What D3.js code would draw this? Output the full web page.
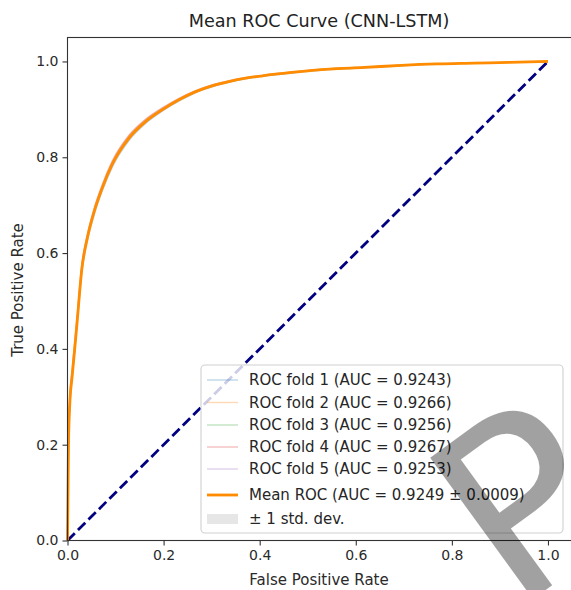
<!DOCTYPE html>
<html>
<head>
<meta charset="utf-8">
<script src="https://cdn.jsdelivr.net/npm/d3@7"></script>
<style>
  body { margin: 0; background: #fff; }
  text { font-family: "DejaVu Sans", sans-serif; }
</style>
</head>
<body>
<div id="chart"></div>
<script>
// values
var fprGrid = [0, 0.002, 0.005, 0.0094, 0.015, 0.020, 0.030, 0.041, 0.055, 0.072, 0.093, 0.128, 0.162, 0.197, 0.232, 0.267, 0.301, 0.336, 0.371, 0.406, 0.467, 0.545, 0.618, 0.695, 0.770, 0.846, 0.920, 1.0];

var fold1Tpr = [0, 0.19, 0.28, 0.335, 0.395, 0.45, 0.56, 0.624, 0.678, 0.729, 0.779, 0.835, 0.870, 0.896, 0.917, 0.935, 0.947, 0.957, 0.964, 0.969, 0.976, 0.983, 0.987, 0.991, 0.995, 0.9965, 0.998, 1];
var fold2Tpr = [0, 0.21, 0.30, 0.35, 0.41, 0.465, 0.575, 0.636, 0.690, 0.740, 0.790, 0.845, 0.878, 0.902, 0.922, 0.939, 0.951, 0.959, 0.966, 0.971, 0.978, 0.985, 0.988, 0.992, 0.995, 0.997, 0.998, 1];
var fold3Tpr = [0, 0.20, 0.29, 0.34, 0.40, 0.458, 0.570, 0.632, 0.686, 0.736, 0.786, 0.841, 0.875, 0.900, 0.920, 0.937, 0.949, 0.958, 0.965, 0.970, 0.977, 0.984, 0.9875, 0.992, 0.995, 0.9965, 0.998, 1];
var fold4Tpr = [0, 0.21, 0.305, 0.355, 0.415, 0.468, 0.578, 0.638, 0.692, 0.742, 0.792, 0.846, 0.879, 0.903, 0.923, 0.939, 0.951, 0.960, 0.966, 0.971, 0.978, 0.985, 0.988, 0.992, 0.995, 0.997, 0.998, 1];
var fold5Tpr = [0, 0.20, 0.285, 0.338, 0.398, 0.455, 0.566, 0.630, 0.684, 0.734, 0.784, 0.839, 0.873, 0.898, 0.919, 0.936, 0.948, 0.957, 0.965, 0.970, 0.977, 0.984, 0.9875, 0.992, 0.995, 0.9965, 0.998, 1];

var meanTpr = [0, 0.20, 0.29, 0.34, 0.40, 0.456, 0.568, 0.630, 0.685, 0.735, 0.785, 0.840, 0.874, 0.899, 0.920, 0.937, 0.949, 0.958, 0.965, 0.970, 0.977, 0.984, 0.9875, 0.992, 0.995, 0.9965, 0.998, 1.0];

var foldAuc = [0.9243, 0.9266, 0.9256, 0.9267, 0.9253];
var meanAuc = 0.9249;
var stdAuc = 0.0009;

var tickValues = [0, 0.2, 0.4, 0.6, 0.8, 1.0];

var foldColors = ["#1f77b4", "#ff7f0e", "#2ca02c", "#d62728", "#9467bd"];

var width = 571, height = 590;

var svg = d3.select("#chart")
  .append("svg")
  .attr("width", width)
  .attr("height", height);

var x = d3.scaleLinear().domain([0, 1.05]).range([67.5, 572]);
var y = d3.scaleLinear().domain([0, 1.05]).range([540.5, 37.5]);

var folds = [fold1Tpr, fold2Tpr, fold3Tpr, fold4Tpr, fold5Tpr];

// std band from the folds
var stdTpr = fprGrid.map(function(d, i) {
  return d3.deviation(folds, function(f) { return f[i]; });
});

var line = d3.line()
  .x(function(d) { return x(d[0]); })
  .y(function(d) { return y(d[1]); })
  .curve(d3.curveMonotoneX);

var area = d3.area()
  .x(function(d, i) { return x(fprGrid[i]); })
  .y0(function(d, i) { return y(Math.max(meanTpr[i] - stdTpr[i], 0)); })
  .y1(function(d, i) { return y(Math.min(meanTpr[i] + stdTpr[i], 1)); })
  .curve(d3.curveMonotoneX);

var plot = svg.append("g");

plot.selectAll("path.fold")
  .data(folds)
  .enter().append("path")
  .attr("class", "fold")
  .attr("d", function(f) {
    return line(fprGrid.map(function(d, i) { return [d, f[i]]; }));
  })
  .style("fill", "none")
  .style("stroke", function(d, i) { return foldColors[i]; })
  .style("stroke-opacity", 0.3)
  .style("stroke-width", "1.4px");

plot.append("path")
  .attr("d", line([[0, 0], [1, 1]]))
  .style("fill", "none")
  .style("stroke", "navy")
  .style("stroke-width", "2.8px")
  .style("stroke-dasharray", "10.3,4.5");

plot.append("path")
  .attr("d", area(fprGrid))
  .style("fill", "grey")
  .style("fill-opacity", 0.2);

plot.append("path")
  .attr("d", line(fprGrid.map(function(d, i) { return [d, meanTpr[i]]; })))
  .style("fill", "none")
  .style("stroke", "darkorange")
  .style("stroke-width", "2.8px")
  .style("stroke-linejoin", "round");

// axes
var xAxis = svg.append("g")
  .attr("transform", "translate(0," + y(0) + ")")
  .call(d3.axisBottom(x).tickValues(tickValues).tickFormat(d3.format(".1f")).tickSize(5).tickPadding(5));

var yAxis = svg.append("g")
  .attr("transform", "translate(" + x(0) + ",0)")
  .call(d3.axisLeft(y).tickValues(tickValues).tickFormat(d3.format(".1f")).tickSize(5).tickPadding(4));

[xAxis, yAxis].forEach(function(a) {
  a.select(".domain").remove();
  a.selectAll("line").style("stroke", "#333").style("stroke-width", "1.1px");
  a.selectAll("text")
    .style("font-family", "DejaVu Sans")
    .style("font-size", "14px")
    .style("fill", "#2a2a2a");
});

// frame
svg.append("rect")
  .attr("x", x(0))
  .attr("y", y(1.05))
  .attr("width", x(1.05) - x(0))
  .attr("height", y(0) - y(1.05))
  .style("fill", "none")
  .style("stroke", "#333")
  .style("stroke-width", "1.1px");

svg.append("text")
  .attr("x", 319)
  .attr("y", 27)
  .attr("text-anchor", "middle")
  .style("font-size", "17.6px")
  .style("fill", "#222")
  .text("Mean ROC Curve (CNN-LSTM)");

svg.append("text")
  .attr("x", 319)
  .attr("y", 585)
  .attr("text-anchor", "middle")
  .style("font-size", "15px")
  .style("fill", "#2a2a2a")
  .text("False Positive Rate");

svg.append("text")
  .attr("transform", "translate(23,290) rotate(-90)")
  .attr("text-anchor", "middle")
  .style("font-size", "15px")
  .style("fill", "#2a2a2a")
  .text("True Positive Rate");

// legend
var legend = svg.append("g");

legend.append("rect")
  .attr("x", 201)
  .attr("y", 365)
  .attr("width", 362)
  .attr("height", 168)
  .attr("rx", 4)
  .style("fill", "#fff")
  .style("fill-opacity", 0.8)
  .style("stroke", "#d0d0d0")
  .style("stroke-width", "1.1px");

var rowY = [380, 402.5, 425, 447, 469, 495, 519];

var entries = foldAuc.map(function(a, i) {
  return { label: "ROC fold " + (i + 1) + " (AUC = " + a.toFixed(4) + ")", color: foldColors[i], kind: "fold" };
});
entries.push({ label: "Mean ROC (AUC = " + meanAuc.toFixed(4) + " \u00b1 " + stdAuc.toFixed(4) + ")", color: "darkorange", kind: "mean" });
entries.push({ label: "\u00b1 1 std. dev.", color: "grey", kind: "std" });

var rows = legend.selectAll("g.row")
  .data(entries)
  .enter().append("g")
  .attr("class", "row")
  .attr("transform", function(d, i) { return "translate(0," + rowY[i] + ")"; });

rows.filter(function(d) { return d.kind != "std"; })
  .append("line")
  .attr("x1", 207)
  .attr("x2", 238)
  .style("stroke", function(d) { return d.color; })
  .style("stroke-opacity", function(d) { return d.kind == "fold" ? 0.3 : 1; })
  .style("stroke-width", function(d) { return d.kind == "fold" ? "1.4px" : "2.8px"; });

rows.filter(function(d) { return d.kind == "std"; })
  .append("rect")
  .attr("x", 207)
  .attr("y", -5)
  .attr("width", 31)
  .attr("height", 10)
  .style("fill", "grey")
  .style("fill-opacity", 0.2);

rows.append("text")
  .attr("x", 249)
  .attr("dy", "0.36em")
  .style("font-size", "15px")
  .style("fill", "#262626")
  .text(function(d) { return d.label; });

// watermark fragment over the lower right
svg.append("text")
  .attr("transform", "translate(514,613) rotate(-36)")
  .style("font-family", "DejaVu Sans")
  .style("font-size", "240px")
  .style("fill", "#000")
  .style("fill-opacity", 0.37)
  .text("P");
</script>
</body>
</html>
